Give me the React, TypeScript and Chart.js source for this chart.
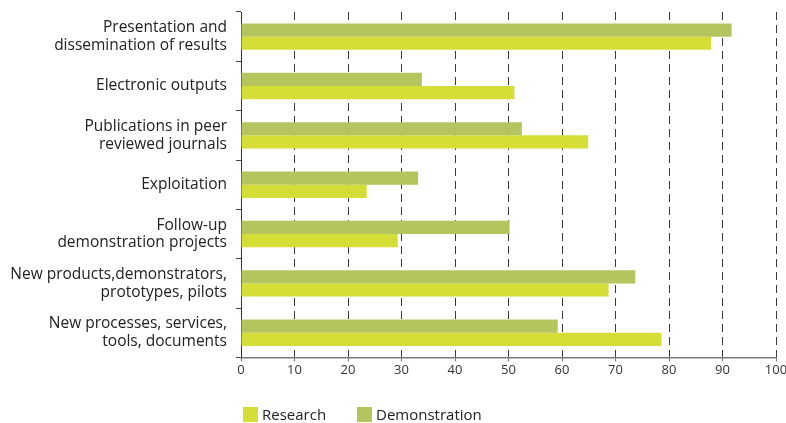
import React, { useEffect, useRef } from "react";
import { Chart, registerables } from "chart.js";

Chart.register(...registerables);

const categories: string[][] = [
  ["Presentation and", "dissemination of results"],
  ["Electronic outputs"],
  ["Publications in peer", "reviewed journals"],
  ["Exploitation"],
  ["Follow-up", "demonstration projects"],
  ["New products,demonstrators,", "prototypes, pilots"],
  ["New processes, services,", "tools, documents"],
];

const research: number[] = [87.9, 51.1, 64.9, 23.5, 29.3, 68.7, 78.6];
const demonstration: number[] = [91.7, 33.8, 52.5, 33.1, 50.2, 73.7, 59.2];

const xTicks: number[] = [0, 10, 20, 30, 40, 50, 60, 70, 80, 90, 100];

const RESEARCH_COLOR = "#d4de36";
const DEMO_COLOR = "#b5c45e";
const FONT = "'Open Sans', 'Noto Sans', sans-serif";

export default function App() {
  const canvasRef = useRef<HTMLCanvasElement | null>(null);

  useEffect(() => {
    const canvas = canvasRef.current;
    if (!canvas) return;
    const chart = new Chart(canvas, {
      type: "bar",
      data: {
        labels: categories,
        datasets: [
          {
            label: "Demonstration",
            data: demonstration,
            backgroundColor: DEMO_COLOR,
            borderWidth: 0,
            barPercentage: 1,
            categoryPercentage: 0.535,
          },
          {
            label: "Research",
            data: research,
            backgroundColor: RESEARCH_COLOR,
            borderWidth: 0,
            barPercentage: 1,
            categoryPercentage: 0.535,
          },
        ],
      },
      options: {
        indexAxis: "y",
        animation: false,
        responsive: true,
        maintainAspectRatio: false,
        layout: { padding: { top: 12, right: 10, bottom: 44, left: 0 } },
        plugins: {
          legend: { display: false },
          tooltip: { enabled: false },
        },
        scales: {
          x: {
            min: 0,
            max: 100,
            afterBuildTicks: (scale: any) => {
              scale.ticks = xTicks.map((v) => ({ value: v }));
            },
            afterFit: (scale: any) => {
              scale.paddingLeft = 0;
              scale.paddingRight = 0;
            },
            ticks: {
              color: "#333",
              font: { family: FONT, size: 13 },
              padding: 1,
              maxRotation: 0,
            },
            grid: {
              color: (ctx: any) =>
                ctx.tick && ctx.tick.value === 0 ? "rgba(0,0,0,0)" : "#3a3a3a",
              lineWidth: 1,
              tickColor: "#777",
              tickLength: 4,
              tickWidth: 1.2,
            },
            border: { display: true, color: "#7a7a7a", width: 1.5, dash: [8, 5] },
          },
          y: {
            afterFit: (scale: any) => {
              scale.width = 241;
              scale.paddingTop = 0;
              scale.paddingBottom = 0;
            },
            ticks: {
              color: "#222",
              font: { family: FONT, size: 15.5, lineHeight: 1.14 },
              padding: 9,
              autoSkip: false,
            },
            grid: {
              drawOnChartArea: false,
              color: "#444",
              tickColor: "#444",
              tickLength: 5,
              offset: true,
            },
            border: { display: true, color: "#333", width: 1 },
          },
        },
      },
    });
    return () => chart.destroy();
  }, []);

  const legendItem = (color: string, text: string, left: number) => (
    <div
      style={{
        position: "absolute",
        left,
        top: 407,
        display: "flex",
        alignItems: "center",
        fontFamily: FONT,
        fontSize: 15,
        color: "#222",
        lineHeight: "15px",
      }}
    >
      <span
        style={{
          display: "inline-block",
          width: 15,
          height: 15,
          background: color,
          marginRight: 4,
        }}
      />
      <span>{text}</span>
    </div>
  );

  return (
    <div style={{ position: "absolute", left: 0, top: 0, width: 786, height: 423 }}>
      <canvas ref={canvasRef} />
      {legendItem(RESEARCH_COLOR, "Research", 243)}
      {legendItem(DEMO_COLOR, "Demonstration", 357)}
    </div>
  );
}
